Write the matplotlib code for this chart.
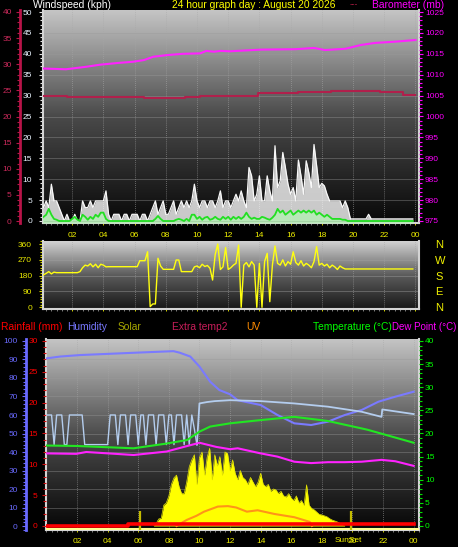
import numpy as np
import matplotlib
matplotlib.use("Agg")
import matplotlib.pyplot as plt
from matplotlib.colors import LinearSegmentedColormap
from matplotlib.ticker import MultipleLocator

plt.rcParams['font.family'] = ['Liberation Sans', 'DejaVu Sans']

W, H = 458, 547
PT = 72 / 100  # points per pixel

# ---------------- data ----------------
# 10 minute samples, 00:00 .. 23:50
t10 = np.arange(144) / 6

wind_gust = [
    4.8, 3.2, 4.8, 3.2, 8.8, 4.8,   # 00
    4.8, 3.2, 1.6, 0.0, 1.6, 0.0,   # 01
    0.0, 1.6, 0.0, 0.0, 4.8, 3.2,   # 02
    3.2, 4.8, 3.2, 4.8, 4.8, 4.8,   # 03
    4.8, 7.2, 1.6, 0.0, 1.6, 1.6,   # 04
    1.6, 0.0, 1.6, 1.6, 0.0, 1.6,   # 05
    1.6, 1.6, 0.0, 1.6, 1.6, 0.0,   # 06
    1.6, 3.2, 4.8, 1.6, 3.2, 4.8,   # 07
    1.6, 1.6, 3.2, 4.8, 1.6, 3.2,   # 08
    4.8, 3.2, 4.8, 3.2, 4.8, 8.8,   # 09
    4.8, 3.2, 4.8, 4.8, 3.2, 4.8,   # 10
    4.8, 3.2, 4.8, 7.2, 3.2, 4.8,   # 11
    4.8, 3.2, 4.8, 6.4, 4.8, 7.2,   # 12
    4.8, 3.2, 12.8, 10.8, 4.8, 6.4,  # 13
    10.8, 4.8, 4.8, 10.8, 7.2, 4.8,  # 14
    18.0, 8.0, 9.6, 16.4, 12.8, 8.8,  # 15
    6.4, 8.0, 4.8, 14.6, 10.8, 6.4,  # 16
    14.4, 11.6, 8.0, 18.3, 13.3, 8.0,  # 17
    9.0, 8.4, 6.4, 4.8, 4.8, 4.8,   # 18
    4.8, 4.8, 3.2, 4.8, 3.2, 0.5,   # 19
    0.5, 0.5, 0.5, 0.5, 0.5, 0.5,   # 20
    1.6, 0.5, 0.5, 0.5, 0.5, 0.5,   # 21
    0.5, 0.5, 0.5, 0.5, 0.5, 0.5,   # 22
    0.5, 0.5, 0.5, 0.5, 0.5, 0.5,   # 23
]

wind_avg = [
    0.5, 1.0, 1.5, 2.9, 1.5, 0.5,
    0.3, 0.0, 0.0, 0.0, 0.0, 0.0,
    0.5, 1.0, 0.3, 0.0, 1.5, 1.0,
    0.3, 1.0, 0.5, 1.5, 1.0, 2.0,
    2.0, 0.5, 0.0, 0.0, 0.0, 0.0,
    0.0, 0.0, 0.0, 0.0, 0.0, 0.0,
    0.0, 0.0, 0.0, 0.0, 0.0, 0.0,
    0.0, 0.0, 0.5, 1.2, 0.5, 0.0,
    0.0, 0.0, 0.0, 0.0, 0.3, 0.5,
    0.3, 0.0, 0.5, 0.0, 1.5, 1.5,
    0.5, 1.0, 0.3, 0.8, 1.0, 0.3,
    0.5, 1.0, 0.5, 0.3, 1.0, 0.5,
    1.0, 0.3, 1.0, 0.5, 1.0, 0.5,
    1.0, 2.0, 1.0, 0.5, 0.8, 0.5,
    0.5, 1.0, 0.8, 0.5, 0.3, 0.8,
    1.5, 2.9, 2.0, 2.5, 1.5, 2.0,
    2.5, 1.5, 2.0, 2.5, 2.0, 2.5,
    2.0, 2.5, 2.0, 2.5, 1.5, 2.0,
    1.5, 1.0, 1.5, 1.0, 0.5, 0.5,
    0.5, 0.5, 0.3, 0.3, 0.0, 0.0,
    0.0, 0.0, 0.0, 0.0, 0.0, 0.0,
    0.0, 0.0, 0.0, 0.0, 0.0, 0.0,
    0.0, 0.0, 0.0, 0.0, 0.0, 0.0,
    0.0, 0.0, 0.0, 0.0, 0.0, 0.0,
]

wind_dir = [
    174, 185, 193, 203, 190, 200,
    197, 197, 197, 197, 197, 197,
    197, 197, 197, 203, 225, 240,
    235, 248, 230, 245, 225, 245,
    240, 230, 231, 231, 231, 231,
    231, 231, 231, 231, 231, 231,
    231, 231, 265, 265, 265, 316,
    4, 19, 19, 279, 235, 216,
    216, 216, 216, 216, 269, 269,
    203, 203, 203, 203, 203, 230,
    235, 225, 245, 232, 238, 222,
    155, 300, 360, 215, 230, 340,
    215, 225, 240, 250, 354, 0,
    240, 255, 230, 260, 240, 0,
    250, 0, 260, 307, 32, 240,
    349, 250, 240, 270, 235, 260,
    245, 316, 255, 240, 265, 235,
    250, 240, 225, 260, 345, 240,
    250, 235, 245, 225, 240, 230,
    215, 235, 225, 218, 218, 218,
    218, 218, 218, 218, 218, 218,
    218, 218, 218, 218, 218, 218,
    218, 218, 218, 218, 218, 218,
    218, 218, 218, 218, 218, 218,
]

baro_hours = [0, 1.6, 2.9, 3.8, 4.9, 5.9, 6.6, 7.2, 8.1, 9.1, 10.2, 10.6, 11.1,
              11.5, 12.1, 14.1, 16.3, 17.5, 18.2, 19.5, 20.5, 21.4, 22.7, 24]
baro_mb = [1011.5, 1011.3, 1011.9, 1012.4, 1012.8, 1013.1, 1013.5, 1014.3, 1014.7,
           1015.0, 1015.1, 1015.7, 1015.5, 1015.7, 1015.6, 1016.0, 1016.1, 1016.4,
           1015.9, 1016.2, 1017.1, 1017.6, 1017.9, 1018.3]

extra_hours = [0, 1.65, 6.6, 9.2, 10.2, 13.9, 16.5, 18.6, 21.7, 23.2, 24]
extra_temp = [24.0, 23.8, 23.6, 23.8, 24.0, 24.5, 24.6, 24.9, 24.7, 24.2, 24.2]

hum_hours = [0, 0.9, 2.2, 5.9, 8.3, 8.7, 9.4, 10.0, 10.7, 11.3, 12.0, 12.5, 14.0,
             15.1, 16.2, 17.3, 18.4, 19.5, 20.6, 21.7, 22.8, 24.0]
humidity = [90.6, 91.6, 92.4, 93.7, 94.5, 93.7, 91.6, 86.2, 78.0, 73.5, 71.2, 68.0,
            65.4, 60.0, 55.5, 54.6, 56.4, 60.0, 62.7, 67.2, 69.9, 72.6]

temp_hours = [0, 2, 5.7, 7.8, 9.2, 10, 10.7, 12, 14, 16.2, 18.4, 20.6, 21, 24]
temperature = [17.4, 17.3, 16.8, 17.8, 18.6, 20.4, 21.5, 22.2, 22.9, 23.6, 22.7,
               21.1, 20.8, 18.0]

dew_hours = [0, 1.95, 2.6, 5.7, 7.85, 10.0, 11.1, 12.0, 12.5, 14.0, 15.1, 16.2,
             17.3, 18.4, 19.5, 20.6, 21.9, 22.8, 24]
dew_point = [15.7, 15.6, 16.0, 15.35, 16.1, 18.0, 17.1, 16.6, 16.8, 15.7, 15.0,
             13.9, 13.6, 13.8, 13.8, 13.9, 14.3, 14.0, 13.0]

# indoor temperature: 10 minute samples until 10:00, then sparse
indoor_a = [
    24, 24, 24, 17.6, 24, 24,
    24, 17.6, 17.6, 24, 24, 24,
    24, 24, 24, 17.6, 17.6, 17.6,
    17.6, 17.6, 17.6, 17.6, 17.6, 17.6,
    17.6, 24, 24, 24, 17.6, 24,
    24, 24, 17.6, 24, 24, 24,
    17.6, 24, 24, 17.6, 24, 24,
    24, 17.6, 24, 24, 24, 17.6,
    24, 24, 17.6, 24, 24, 24,
    17.6, 24, 17.6, 24, 21, 17.6,
]
indoor_b_hours = [10, 10.5, 11, 12, 14, 16.2, 18.4, 20.6, 21.9, 21.95, 24]
indoor_b = [26.5, 26.8, 27.0, 27.2, 27.0, 26.5, 25.8, 24.7, 23.6, 25.2, 24.2]

# solar (W/m2), 10 minute samples 07:00 .. 19:30
solar_t = np.arange(76) / 6 + 7
solar = [
    10, 25, 75, 85, 225, 250,
    325, 450, 520, 550, 425, 350,
    350, 475, 640, 715, 770, 450,
    740, 800, 550, 740, 840, 500,
    770, 650, 750, 550, 800, 785,
    600, 715, 570, 500, 600, 525,
    500, 450, 525, 475, 425, 475,
    570, 450, 425, 450, 375, 400,
    390, 350, 375, 325, 315, 350,
    300, 275, 325, 250, 275, 225,
    445, 225, 190, 175, 150, 125,
    120, 110, 100, 80, 65, 55,
    45, 30, 15, 0,
]

uv_hours = [8.5, 9.16, 9.8, 10.3, 11.2, 11.86, 12.4, 13.1, 13.8, 14.9, 16.2, 17.2, 17.35]
uv_index = [0, 0.65, 1.1, 1.55, 2.1, 2.15, 2.0, 1.55, 1.7, 1.3, 0.95, 0.45, 0]

rain_hours = [0, 5.35, 5.35, 24]
rain_mm = [0, 0, 0.25, 0.25]

sun_events = [6.1, 19.9]

hour_ticks = list(range(2, 25, 2))
hour_labels = ['02', '04', '06', '08', '10', '12', '14', '16', '18', '20', '22', '00']

# ---------------- helpers ----------------
fig = plt.figure(figsize=(W / 100, H / 100), dpi=100, facecolor='black')


def box(x0, y0, x1, y1):
    return [x0 / W, 1 - y1 / H, (x1 - x0) / W, (y1 - y0) / H]


def ftext(x, y, s, color, ha='left', size=7.4):
    fig.text(x / W, 1 - y / H, s, color=color, ha=ha, va='center', fontsize=size)


def panel(rect, xlim, ylim, stops):
    ax = fig.add_axes(rect)
    ax.set_xlim(*xlim)
    ax.set_ylim(*ylim)
    cmap = LinearSegmentedColormap.from_list('bg', stops)
    ax.imshow(np.linspace(1, 0, 256)[:, None], cmap=cmap, aspect='auto',
              extent=[*xlim, *ylim], zorder=0, interpolation='bilinear')
    ax.set_xlim(*xlim)
    ax.set_ylim(*ylim)
    ax.set_facecolor('black')
    for s in ax.spines.values():
        s.set_color('#d4d4d4')
        s.set_linewidth(1.5)
    ax.spines['top'].set_visible(False)
    ax.tick_params(axis='x', colors='#f0f000', labelsize=6, length=2 * PT,
                   width=0.6, pad=5)
    ax.tick_params(axis='x', which='minor', colors='#909090', length=2 * PT, width=0.6)
    ax.xaxis.set_minor_locator(MultipleLocator(1 / 3))
    ax.set_xticks(hour_ticks)
    for h in hour_ticks:
        ax.axvline(h, color='#a8a8a8', lw=0.6, ls=(0, (1, 1.5)), alpha=0.7, zorder=1)
    return ax


def twin(ax, ylim, side=None, color=None, major=None, minor=None,
         outward=0, pad=2.0, spine=False):
    tw = ax.twinx()
    tw.set_ylim(*ylim)
    for s in tw.spines.values():
        s.set_visible(False)
    if side is None:
        tw.set_yticks([])
        return tw
    if side == 'left':
        tw.yaxis.tick_left()
        tw.spines['left'].set_position(('outward', outward * PT))
        if spine:
            tw.spines['left'].set_visible(True)
            tw.spines['left'].set_color(color)
            tw.spines['left'].set_linewidth(2)
    tw.yaxis.set_major_locator(MultipleLocator(major))
    tw.yaxis.set_minor_locator(MultipleLocator(minor))
    tw.set_ylim(*ylim)
    tw.tick_params(axis='y', which='both', colors=color, labelsize=6, width=0.8,
                   length=4 * PT, pad=pad)
    tw.tick_params(axis='y', which='minor', length=3 * PT)
    return tw


# ---------------- top panel: wind + barometer ----------------
top_xlim = (0.13, 24.23)
ax_w = panel(box(43, 10, 419, 223), top_xlim, (-0.48, 50.48),
             ['#080808', '#4a4a4a', '#c6c6c6'])
ax_w.set_xticklabels(hour_labels)
for v in range(5, 50, 5):
    ax_w.axhline(v, color='#9a9a9a', lw=0.6, alpha=0.45, zorder=1)
ax_w.yaxis.set_major_locator(MultipleLocator(5))
ax_w.yaxis.set_minor_locator(MultipleLocator(1))
ax_w.set_ylim(-0.48, 50.48)
ax_w.tick_params(axis='y', which='both', colors='#e4e4e4', labelcolor='#eaf4ff',
                 labelsize=6, length=4 * PT, width=0.8, pad=5)
ax_w.tick_params(axis='y', which='minor', length=3 * PT)

ax_w.fill_between(t10, 0, wind_gust, color='white', alpha=0.78, lw=0, zorder=2)
ax_w.plot(t10, wind_gust, color='#f8f8f8', lw=0.9, zorder=3)
ax_w.fill_between(t10, -0.48, wind_avg, color='#b4f0b4', alpha=0.8, lw=0, zorder=3)
ax_w.plot(t10, wind_avg, color='#22e022', lw=1.3, zorder=4)

ax_b = twin(ax_w, (974.52, 1025.48), 'right', '#ff00ff', 5, 1, pad=1.5)
ax_b.plot(baro_hours, baro_mb, color='#ff22ff', lw=1.5)

ax_c = twin(ax_w, (-0.38, 40.38), 'left', '#b81448', 5, 1, outward=23, pad=3,
            spine=True)
ax_c.tick_params(axis='y', labelcolor='#cc2a5c')
ax_c.plot(extra_hours, extra_temp, color='#b0204c', lw=1.5, drawstyle='steps-post')

# ---------------- middle panel: wind direction ----------------
ax_d = panel(box(43, 241, 419, 309), top_xlim, (-9.7, 377.1),
             ['#181818', '#5c5c5c', '#d2d2d2'])
ax_d.tick_params(axis='x', labelbottom=False)
for v in (90, 180, 270):
    ax_d.axhline(v, color='#a0a0a0', lw=0.6, alpha=0.5, zorder=1)
ax_d.set_yticks([0, 90, 180, 270, 360])
ax_d.yaxis.set_minor_locator(MultipleLocator(15))
ax_d.set_ylim(-9.7, 377.1)
ax_d.tick_params(axis='y', which='both', colors='#d8d800', labelcolor='#e8e800',
                 labelsize=6, length=4 * PT, width=0.8, pad=5)
ax_d.tick_params(axis='y', which='minor', length=3 * PT)
ax_d.plot(t10, wind_dir, color='#ffff10', lw=1.0, zorder=3)

ax_dn = ax_d.twinx()
ax_dn.set_ylim(-9.7, 377.1)
ax_dn.set_yticks([0, 90, 180, 270, 360])
ax_dn.set_yticklabels(['N', 'E', 'S', 'W', 'N'])
ax_dn.tick_params(axis='y', length=0, pad=16 * PT, labelsize=8, labelcolor='#f0f000')
for s in ax_dn.spines.values():
    s.set_visible(False)

# ---------------- bottom panel ----------------
bot_xlim = (-0.03, 24.35)
ax_p = panel(box(46, 339, 419, 530), bot_xlim, (-2.16, 101.08),
             ['#060606', '#4c4c4c', '#c4c4c4'])
ax_p.set_xticklabels(hour_labels)
ax_p.tick_params(axis='x', pad=4)
ax_p.set_yticks([])
for v in range(10, 100, 10):
    ax_p.axhline(v, color='#9a9a9a', lw=0.6, alpha=0.45, zorder=1)

ax_s = twin(ax_p, (-43.25, 2021.5))
ax_s.axhline(-30, color='#ffff90', lw=2.2)
ax_s.fill_between(solar_t, 0, solar, color='#ffff00', lw=0)
ax_s.plot(solar_t, solar, color='#e6e600', lw=0.5)
ax_s.vlines(sun_events, -40, 160, colors='#c4bc00', lw=1.6)

ax_u = twin(ax_p, (-0.4325, 20.215))
ax_u.plot(uv_hours, uv_index, color='#ff9418', lw=1.5)

ax_r = twin(ax_p, (-0.649, 30.32), 'left', '#ff0000', 5, 1, outward=0, pad=3)
ax_r.tick_params(axis='y', which='both', colors='#d01010', labelcolor='#ff0000')
ax_r.plot(rain_hours, rain_mm, color='#ff0000', lw=2.6)

ax_h = twin(ax_p, (-2.16, 101.08), 'left', '#6a6aff', 10, 2, outward=20, pad=3,
            spine=True)
ax_h.plot(hum_hours, humidity, color='#7a7aff', lw=1.5)

ax_t = twin(ax_p, (-0.865, 40.43), 'right', '#00e000', 5, 1, pad=1.5)
ax_t.tick_params(axis='y', labelcolor='#00ff00')
ax_t.plot(t10[:60], indoor_a, color='#b4cdee', lw=1.0)
ax_t.plot([t10[59]] + indoor_b_hours, [indoor_a[-1]] + indoor_b, color='#b4cdee', lw=1.3)
ax_t.plot(temp_hours, temperature, color='#22e622', lw=1.5)
ax_t.plot(dew_hours, dew_point, color='#ff22ff', lw=1.5)

# ---------------- titles ----------------
ftext(33, 5, 'Windspeed (kph)', 'white')
ftext(172, 5, '24 hour graph day : August 20 2026', '#ffff00')
ftext(350, 5, '---', '#c8204e', size=6)
ftext(372, 5, 'Barometer (mb)', '#ff00ff')

ftext(1, 327, 'Rainfall (mm)', '#ff0000')
ftext(67, 327, 'Humidity', '#7878ff')
ftext(118, 327, 'Solar', '#a8a800')
ftext(172, 327, 'Extra temp2', '#c81e5a')
ftext(246, 327, 'UV', '#ff8c00')
ftext(313, 327, 'Temperature (°C)', '#00ff00')
ftext(392, 327, 'Dew Point (°C)', '#ff00ff', size=7.0)
ftext(348, 541, 'SunSet', '#f0f000', ha='center', size=6)

fig.savefig('out.png', dpi=100, facecolor='black')
